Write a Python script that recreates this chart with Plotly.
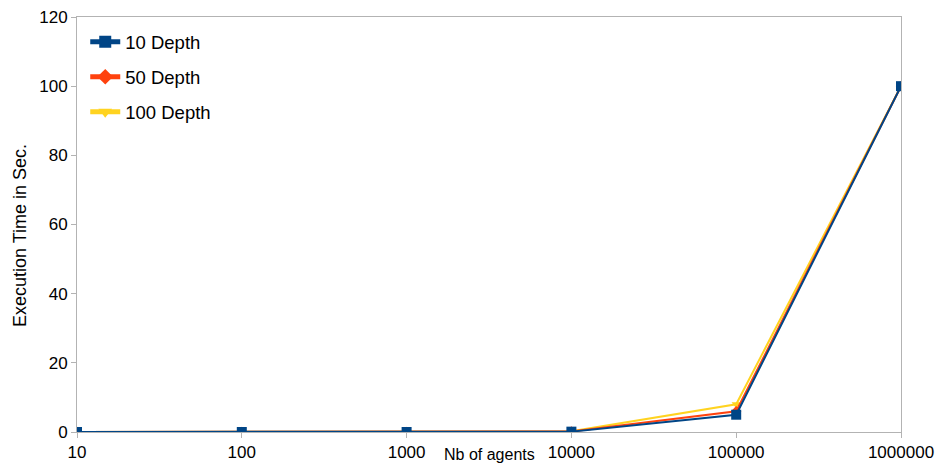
import plotly.graph_objects as go

categories = ["10", "100", "1000", "10000", "100000", "1000000"]
depth10 = [0, 0, 0, 0.1, 5, 100]
depth50 = [0, 0, 0, 0.15, 6, 100]
depth100 = [0, 0, 0, 0.2, 8, 100]

series = [
    ("10 Depth", depth10, "#004586", "square", 10),
    ("50 Depth", depth50, "#ff420e", "diamond", 8),
    ("100 Depth", depth100, "#ffd320", "triangle-down", 8),
]

fig = go.Figure()
for rank, (name, vals, col, sym, size) in reversed(list(enumerate(series))):
    fig.add_trace(go.Scatter(
        x=categories, y=vals, name=name, mode="lines+markers",
        line=dict(color=col, width=2),
        marker=dict(symbol=sym, size=size, color=col),
        legendrank=rank + 1, legendgroup=name,
    ))

fig.update_layout(
    width=941, height=466,
    margin=dict(l=77, r=40, t=17, b=34),
    paper_bgcolor="white", plot_bgcolor="white",
    font=dict(family="Liberation Sans, Arial, sans-serif", size=17, color="#000000"),
    showlegend=True,
    legend=dict(x=0.01, y=0.985, xanchor="left", yanchor="top",
                bgcolor="rgba(0,0,0,0)", font=dict(size=18.5),
                tracegroupgap=8, itemsizing="constant"),
    xaxis=dict(type="category", range=[0, 5], showgrid=False, zeroline=False,
               showline=True, linecolor="#b3b3b3", linewidth=1, mirror=True,
               ticks="outside", ticklen=5, tickcolor="#b3b3b3",
               tickfont=dict(size=17), automargin=False),
    yaxis=dict(range=[0, 120], dtick=20, showgrid=False, zeroline=False,
               showline=True, linecolor="#b3b3b3", linewidth=1, mirror=True,
               ticks="outside", ticklen=5, tickcolor="#b3b3b3",
               tickfont=dict(size=17), automargin=False),
    annotations=[
        dict(text="Nb of agents", xref="paper", yref="paper",
             x=0.5, y=-0.03, xanchor="center", yanchor="top",
             showarrow=False, font=dict(size=16)),
        dict(text="Execution Time in Sec.", xref="paper", yref="paper",
             x=-0.0692, y=0.4747, xanchor="center", yanchor="middle",
             textangle=-90, showarrow=False, font=dict(size=18)),
    ],
)

fig.write_html("out.html", config={"displayModeBar": False},
               post_script="document.body.style.margin='0';")
